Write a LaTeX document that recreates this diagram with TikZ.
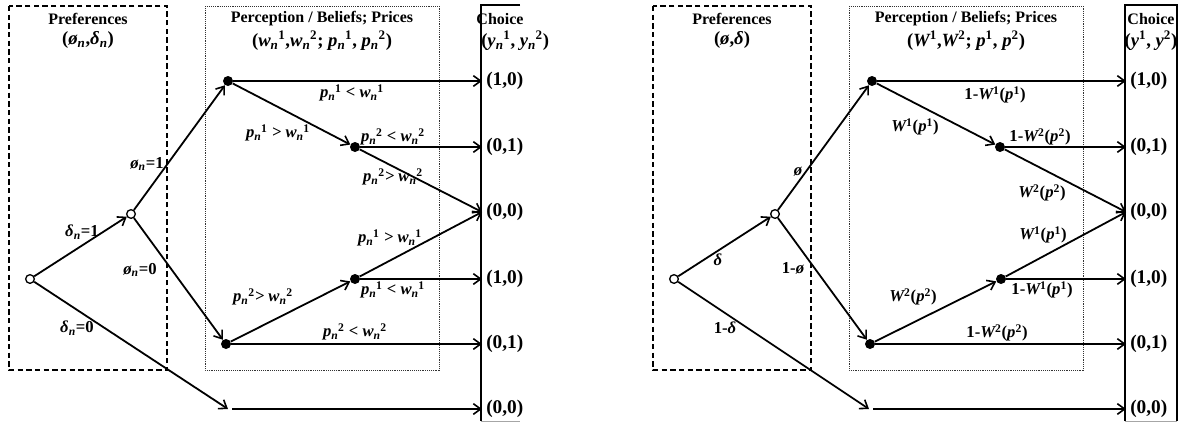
\documentclass[tikz,border=0pt]{standalone}
\usepackage{fontspec}
\setmainfont{Liberation Serif}
\usetikzlibrary{arrows.meta}
\newcommand\SbSp[3]{#1\textsubscript{#2}\kern-0.02em\textsuperscript{\upshape #3}}
\newcommand\Sp[2]{#1\textsuperscript{\upshape #2}}
\tikzset{
  openn/.style={circle,draw,fill=white,line width=1pt,inner sep=0pt,minimum size=6.5pt},
  dotn/.style={circle,fill=black,inner sep=0pt,minimum size=7.5pt},
  edge/.style={line width=1.35pt,-{Straight Barb[length=5.5pt,width=8pt,line width=1.2pt]}},
  choice/.style={font=\fontsize{14.5}{16}\selectfont\bfseries,anchor=west,inner ysep=0.5pt,inner xsep=3pt},
  lab/.style={font=\fontsize{12.5}{14}\selectfont\bfseries\itshape,inner sep=0pt},
  head/.style={font=\fontsize{12}{14}\selectfont\bfseries,inner sep=0pt},
  tup/.style={font=\fontsize{14}{16}\selectfont\bfseries,inner sep=0pt},
  prefbox/.style={line width=0.9pt,dash pattern=on 4pt off 2.5pt},
  percbox/.style={line width=0.6pt,dash pattern=on 0.7pt off 0.7pt,black!80},
}
\begin{document}
\begin{tikzpicture}[x=0.75pt,y=-0.75pt]
\useasboundingbox (0,0) rectangle (1180,425);
% ================= LEFT =================
\begin{scope}
\draw[prefbox] (9,6) rectangle (167,370);
\draw[percbox] (205,6) rectangle (439,370);
\draw[line width=0.9pt] (520,5) -- (481,5) -- (481,421);
\draw[line width=0.6pt,black!35] (481,421) -- (520,421);
\node[head] (Lph) at (88,19) {Preferences};
\node[tup] (Lpt) at (88,40) {(\textit{ø\textsubscript{n}},\textit{δ\textsubscript{n}})};
\node[head] (Lqh) at (322,19) {Perception / Beliefs; Prices};
\node[tup] (Lqt) at (322,41) {(\textit{\SbSp{w}{n}{1}},\textit{\SbSp{w}{n}{2}}; \textit{\SbSp{p}{n}{1}}, \textit{\SbSp{p}{n}{2}})};
\node[head] (Lch) at (500,19) {Choice};
\node[tup,anchor=west] (Lct) at (481,41) {(\textit{\SbSp{y}{n}{1}}, \textit{\SbSp{y}{n}{2}})};
\node[openn] (Lroot) at (30,279) {};
\node[openn] (LB) at (131,214) {};
\node[dotn] (LT) at (228,81) {};
\node[dotn] (LL) at (226,344) {};
\node[dotn] (LM1) at (355,147) {};
\node[dotn] (LM2) at (355,279) {};
\coordinate (LE) at (228,409);
\coordinate (LE2) at (232,409);
\node[choice] (Lc1) at (482,81) {(1,0)};
\node[choice] (Lc2) at (482,147) {(0,1)};
\node[choice] (Lc3) at (482,212) {(0,0)};
\node[choice] (Lc4) at (482,279) {(1,0)};
\node[choice] (Lc5) at (482,344) {(0,1)};
\node[choice] (Lc6) at (482,409) {(0,0)};
\draw[edge] (Lroot) -- (LB);
\draw[edge] (Lroot) -- (LE);
\draw[edge] (LB) -- (LT);
\draw[edge] (LB) -- (LL);
\draw[edge] (LT) -- (Lc1.west);
\draw[edge] (LT) -- (LM1);
\draw[edge] (LM1) -- (Lc2.west);
\draw[edge] (LM1) -- (Lc3.west);
\draw[edge] (LL) -- (LM2);
\draw[edge] (LL) -- (Lc5.west);
\draw[edge] (LM2) -- (Lc4.west);
\draw[edge] (LM2) -- (Lc3.west);
\draw[edge] (LE2) -- (Lc6.west);
\node[lab] (Ll1) at (147,164) {ø\textsubscript{n}{\upshape=1}};
\node[lab] (Ll2) at (82,232) {δ\textsubscript{n}{\upshape=1}};
\node[lab] (Ll3) at (140,270) {ø\textsubscript{n}{\upshape=0}};
\node[lab] (Ll4) at (77,328) {δ\textsubscript{n}{\upshape=0}};
\node[lab] (Ll5) at (352,93) {\SbSp{p}{n}{1} < \SbSp{w}{n}{1}};
\node[lab] (Ll6) at (278,133) {\SbSp{p}{n}{1} > \SbSp{w}{n}{1}};
\node[lab] (Ll7) at (393,137) {\SbSp{p}{n}{2} < \SbSp{w}{n}{2}};
\node[lab] (Ll8) at (393,177) {\SbSp{p}{n}{2}> \SbSp{w}{n}{2}};
\node[lab] (Ll9) at (390,238) {\SbSp{p}{n}{1} > \SbSp{w}{n}{1}};
\node[lab] (Ll10) at (393,290) {\SbSp{p}{n}{1} < \SbSp{w}{n}{1}};
\node[lab] (Ll11) at (263,297) {\SbSp{p}{n}{2}> \SbSp{w}{n}{2}};
\node[lab] (Ll12) at (355,332) {\SbSp{p}{n}{2} < \SbSp{w}{n}{2}};
\end{scope}
% ================= RIGHT =================
\begin{scope}[xshift=483pt]
\draw[prefbox] (9,6) rectangle (167,370);
\draw[percbox] (205,6) rectangle (439,370);
\draw[line width=0.9pt] (481,421) -- (481,5) -- (533,5) -- (533,421);
\draw[line width=0.6pt,black!35] (481,421) -- (533,421);
\node[head] (Rph) at (88,19) {Preferences};
\node[tup] (Rpt) at (88,40) {(\textit{ø},\textit{δ})};
\node[head] (Rqh) at (322,19) {Perception / Beliefs; Prices};
\node[tup] (Rqt) at (322,41) {(\textit{\Sp{W}{1}},\textit{\Sp{W}{2}}; \textit{\Sp{p}{1}}, \textit{\Sp{p}{2}})};
\node[head] (Rch) at (507,19) {Choice};
\node[tup] (Rct) at (507,41) {(\textit{\Sp{y}{1}}, \textit{\Sp{y}{2}})};
\node[openn] (Rroot) at (30,279) {};
\node[openn] (RB) at (131,214) {};
\node[dotn] (RT) at (228,81) {};
\node[dotn] (RL) at (226,344) {};
\node[dotn] (RM1) at (356,147) {};
\node[dotn] (RM2) at (357,279) {};
\coordinate (RE) at (225,409);
\coordinate (RE2) at (229,409);
\node[choice] (Rc1) at (482,81) {(1,0)};
\node[choice] (Rc2) at (482,147) {(0,1)};
\node[choice] (Rc3) at (482,212) {(0,0)};
\node[choice] (Rc4) at (482,279) {(1,0)};
\node[choice] (Rc5) at (482,344) {(0,1)};
\node[choice] (Rc6) at (482,409) {(0,0)};
\draw[edge] (Rroot) -- (RB);
\draw[edge] (Rroot) -- (RE);
\draw[edge] (RB) -- (RT);
\draw[edge] (RB) -- (RL);
\draw[edge] (RT) -- (Rc1.west);
\draw[edge] (RT) -- (RM1);
\draw[edge] (RM1) -- (Rc2.west);
\draw[edge] (RM1) -- (Rc3.west);
\draw[edge] (RL) -- (RM2);
\draw[edge] (RL) -- (Rc5.west);
\draw[edge] (RM2) -- (Rc4.west);
\draw[edge] (RM2) -- (Rc3.west);
\draw[edge] (RE2) -- (Rc6.west);
\node[lab] (Rl1) at (154,172) {ø};
\node[lab] (Rl2) at (74,260) {δ};
\node[lab] (Rl3) at (149,268) {{\upshape 1-}ø};
\node[lab] (Rl4) at (81,328) {{\upshape 1-}δ};
\node[lab] (Rl5) at (351,95) {{\upshape 1-}\Sp{W}{1}{\upshape(}\Sp{p}{1}{\upshape)}};
\node[lab] (Rl6) at (271,127) {\Sp{W}{1}{\upshape(}\Sp{p}{1}{\upshape)}};
\node[lab] (Rl7) at (396,137) {{\upshape 1-}\Sp{W}{2}{\upshape(}\Sp{p}{2}{\upshape)}};
\node[lab] (Rl8) at (398,193) {\Sp{W}{2}{\upshape(}\Sp{p}{2}{\upshape)}};
\node[lab] (Rl9) at (399,235) {\Sp{W}{1}{\upshape(}\Sp{p}{1}{\upshape)}};
\node[lab] (Rl10) at (398,290) {{\upshape 1-}\Sp{W}{1}{\upshape(}\Sp{p}{1}{\upshape)}};
\node[lab] (Rl11) at (269,297) {\Sp{W}{2}{\upshape(}\Sp{p}{2}{\upshape)}};
\node[lab] (Rl12) at (353,333) {{\upshape 1-}\Sp{W}{2}{\upshape(}\Sp{p}{2}{\upshape)}};
\end{scope}
\end{tikzpicture}
\end{document}
